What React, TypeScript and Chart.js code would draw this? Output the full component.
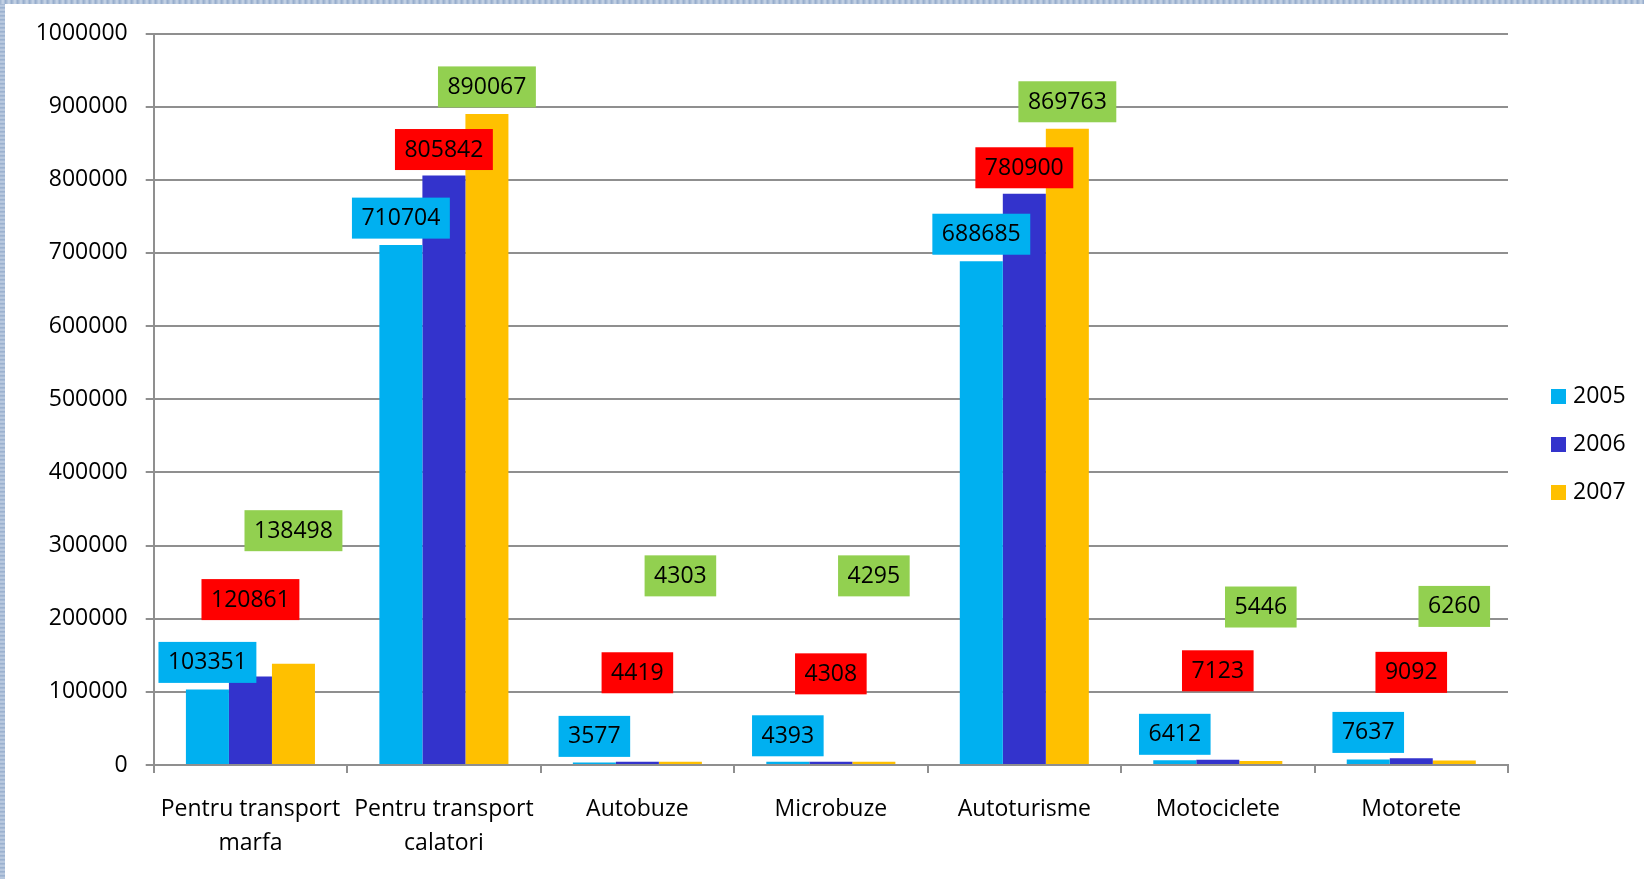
import React, { useEffect, useRef } from "react";
import { Chart, registerables } from "chart.js";

Chart.register(...registerables);

// ---- data ----
const categories: (string | string[])[] = [
  ["Pentru transport", "marfa"],
  ["Pentru transport", "calatori"],
  "Autobuze",
  "Microbuze",
  "Autoturisme",
  "Motociclete",
  "Motorete",
];
const seriesNames = ["2005", "2006", "2007"];
const values2005 = [103351, 710704, 3577, 4393, 688685, 6412, 7637];
const values2006 = [120861, 805842, 4419, 4308, 780900, 7123, 9092];
const values2007 = [138498, 890067, 4303, 4295, 869763, 5446, 6260];
const yMin = 0;
const yMax = 1000000;
const yStep = 100000;

// ---- styling / layout (not data) ----
const barColors = ["#00B0F0", "#3333CC", "#FFC000"];
const labelBoxColors = ["#00B0F0", "#FF0000", "#92D050"];
// how far (px) each value label box centre sits above its bar top (manually placed in the original)
const labelLift2005 = [27, 27, 26, 26, 27, 26, 27];
const labelLift2006 = [77, 26, 89, 88, 26, 89, 86];
const labelLift2007 = [133, 27, 186, 186, 27, 154, 154];
const labelLifts = [labelLift2005, labelLift2006, labelLift2007];

const FONT = "'Open Sans', 'Noto Sans', sans-serif";
const FONT_SIZE = 23;
const GRID = "#8f8f8f";

const valueLabelPlugin = {
  id: "valueLabels",
  afterDatasetsDraw(chart: any) {
    const ctx = chart.ctx;
    ctx.save();
    ctx.font = `${FONT_SIZE}px ${FONT}`;
    ctx.textAlign = "center";
    ctx.textBaseline = "middle";
    chart.data.datasets.forEach((ds: any, di: number) => {
      const meta = chart.getDatasetMeta(di);
      meta.data.forEach((bar: any, i: number) => {
        const text = String(ds.data[i]);
        const w = ctx.measureText(text).width + 19;
        const h = 41;
        const cy = bar.y - labelLifts[di][i];
        ctx.fillStyle = labelBoxColors[di];
        ctx.fillRect(bar.x - w / 2, cy - h / 2, w, h);
        ctx.fillStyle = "#000";
        ctx.fillText(text, bar.x, cy + 0.5);
      });
    });
    ctx.restore();
  },
};

const sideLegendPlugin = {
  id: "sideLegend",
  afterDraw(chart: any) {
    const ctx = chart.ctx;
    const { chartArea } = chart;
    const cy = chart.height / 2 + 5;
    const x = chartArea.right + 43;
    ctx.save();
    ctx.font = `${FONT_SIZE}px ${FONT}`;
    ctx.textAlign = "left";
    ctx.textBaseline = "middle";
    chart.data.datasets.forEach((ds: any, i: number) => {
      const y = cy + (i - 1) * 48;
      ctx.fillStyle = ds.backgroundColor;
      ctx.fillRect(x, y - 7.5, 15, 15);
      ctx.fillStyle = "#000";
      ctx.fillText(ds.label, x + 22, y);
    });
    ctx.restore();
  },
};

export default function App() {
  const ref = useRef<HTMLCanvasElement>(null);

  useEffect(() => {
    document.body.style.margin = "0";
    const seriesValues = [values2005, values2006, values2007];
    const chart = new Chart(ref.current as HTMLCanvasElement, {
      type: "bar",
      data: {
        labels: categories,
        datasets: seriesNames.map((name, i) => ({
          label: name,
          data: seriesValues[i],
          backgroundColor: barColors[i],
          borderWidth: 0,
          categoryPercentage: 0.667,
          barPercentage: 1.0,
        })),
      },
      options: {
        animation: false,
        responsive: false,
        maintainAspectRatio: false,
        layout: { padding: { left: 35, right: 136, top: 33.5, bottom: 0 } },
        plugins: {
          legend: { display: false },
          tooltip: { enabled: false },
        },
        scales: {
          x: {
            grid: {
              drawOnChartArea: false,
              drawTicks: true,
              tickLength: 8,
              color: GRID,
              lineWidth: 2,
              offset: true,
            },
            border: { color: GRID, width: 2 },
            ticks: {
              color: "#000",
              font: { family: FONT, size: FONT_SIZE, lineHeight: 1.45 },
              padding: 20,
              maxRotation: 0,
              autoSkip: false,
            },
            afterFit: (s: any) => {
              s.height = 114;
            },
          },
          y: {
            min: yMin,
            max: yMax,
            grid: { color: GRID, lineWidth: 2, tickLength: 8, drawTicks: true },
            border: { color: GRID, width: 2 },
            ticks: {
              stepSize: yStep,
              color: "#000",
              font: { family: FONT, size: FONT_SIZE },
              padding: 18,
              callback: (v: any) => String(v),
            },
            afterFit: (s: any) => {
              s.width = 118.7;
            },
          },
        },
      } as any,
      plugins: [valueLabelPlugin, sideLegendPlugin],
    });
    return () => chart.destroy();
  }, []);

  return (
    <div
      style={{
        position: "fixed",
        left: 0,
        top: 0,
        width: 1644,
        height: 879,
        background: "#ffffff",
        overflow: "hidden",
      }}
    >
      <div
        style={{
          position: "absolute",
          left: 0,
          top: 0,
          width: 5,
          height: 879,
          background: "repeating-linear-gradient(180deg, #9db2cf 0px, #c3d1e4 2px, #8ea6c8 4px)",
        }}
      />
      <div
        style={{
          position: "absolute",
          left: 0,
          top: 0,
          width: 1644,
          height: 4,
          background: "repeating-linear-gradient(90deg, #9db2cf 0px, #c9d6e7 3px, #8ea6c8 6px)",
        }}
      />
      <canvas
        ref={ref}
        width={1644}
        height={879}
        style={{ position: "absolute", left: 0, top: 0 }}
      />
    </div>
  );
}
